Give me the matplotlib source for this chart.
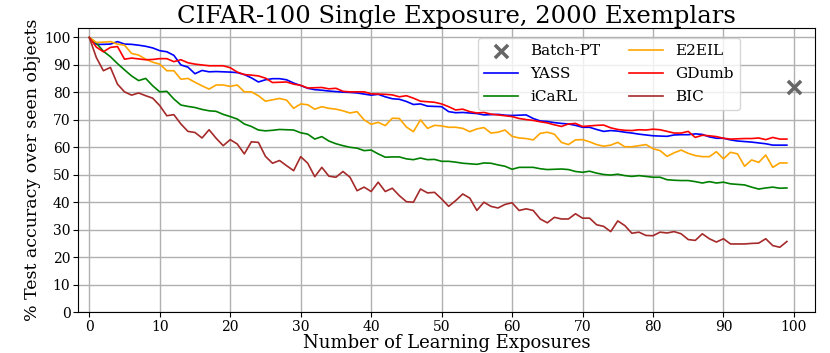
import numpy as np
import matplotlib
matplotlib.use("Agg")
import matplotlib.pyplot as plt

plt.rcParams['font.family'] = 'DejaVu Serif'

# --- Data --- #
exposures = np.arange(100)

yass = [100, 97.5, 97.5, 97.6, 98.5, 97.6, 97.5, 97.2, 96.8, 96.2,
        95.2, 94.8, 93.5, 90.0, 89.2, 86.8, 88.0, 87.5, 87.6, 87.5,
        87.4, 87.2, 86.5, 85.3, 83.8, 84.6, 85.0, 85.0, 84.6, 83.4,
        82.5, 81.5, 81.0, 80.8, 80.5, 80.3, 80.1, 80.0, 79.8, 79.4,
        79.0, 79.3, 78.4, 77.7, 77.5, 76.7, 75.6, 75.8, 75.0, 74.9,
        74.8, 73.0, 72.6, 72.7, 72.5, 72.3, 71.8, 71.9, 72.0, 71.7,
        71.6, 71.7, 71.8, 70.5, 69.6, 69.4, 69.0, 68.7, 68.5, 68.0,
        67.3, 67.3, 66.5, 65.8, 66.1, 65.9, 65.5, 65.2, 64.8, 64.5,
        64.2, 64.1, 64.0, 64.5, 64.6, 64.6, 64.9, 64.7, 63.8, 63.3,
        63.3, 62.7, 62.3, 62.1, 61.9, 61.6, 61.3, 60.8, 60.8, 60.8]

gdumb = [100, 96.5, 94.8, 96.4, 96.7, 92.1, 92.5, 92.2, 91.9, 92.0,
         92.3, 92.3, 91.2, 91.9, 90.8, 90.3, 90.0, 89.7, 89.7, 89.7,
         89.0, 87.4, 86.5, 86.3, 86.0, 85.2, 83.6, 83.7, 83.8, 83.0,
         82.6, 81.6, 81.7, 81.8, 81.3, 81.5, 80.4, 80.2, 80.2, 80.2,
         79.5, 79.4, 79.3, 79.1, 78.4, 78.8, 77.9, 76.8, 76.6, 76.4,
         75.8, 74.8, 73.6, 73.9, 73.0, 72.5, 72.7, 72.1, 71.8, 71.5,
         71.2, 70.5, 70.1, 69.8, 69.3, 68.9, 68.2, 67.6, 68.5, 68.7,
         67.6, 67.8, 68.0, 68.1, 67.1, 66.5, 66.2, 66.1, 66.4, 66.3,
         66.6, 66.4, 65.8, 65.2, 65.2, 65.8, 63.6, 64.4, 64.2, 63.9,
         63.3, 63.0, 63.1, 63.2, 63.2, 63.4, 62.8, 63.6, 63.0, 63.0]

e2eil = [100, 98.2, 98.3, 98.5, 97.6, 97.2, 94.2, 93.6, 92.1, 91.0,
         90.3, 87.9, 87.9, 84.8, 85.1, 83.7, 82.4, 81.2, 82.7, 82.7,
         82.2, 82.7, 80.2, 80.2, 78.8, 76.8, 77.3, 77.8, 77.2, 74.2,
         75.8, 75.5, 73.9, 74.8, 74.2, 73.9, 73.3, 72.5, 73.0, 70.0,
         68.4, 69.1, 67.9, 70.6, 70.5, 67.4, 65.7, 70.0, 66.9, 68.0,
         67.8, 67.3, 67.3, 66.9, 65.7, 66.7, 67.2, 65.2, 65.5, 66.3,
         64.0, 63.4, 63.2, 62.7, 65.1, 65.5, 64.8, 61.8, 61.0, 62.7,
         62.8, 62.0, 61.0, 60.4, 60.8, 61.8, 60.2, 60.2, 60.6, 61.0,
         59.5, 58.8, 56.7, 58.0, 59.0, 57.8, 57.0, 56.6, 56.6, 58.4,
         55.8, 58.2, 57.6, 53.1, 55.4, 54.5, 57.2, 52.7, 54.3, 54.3]

icarl = [100, 98.0, 95.0, 93.0, 90.5, 88.2, 86.0, 84.3, 85.1, 82.4,
         80.2, 80.4, 77.6, 75.4, 74.9, 74.5, 73.8, 73.3, 73.1, 72.0,
         71.2, 70.3, 68.5, 67.6, 66.3, 66.0, 66.2, 66.5, 66.4, 66.3,
         65.3, 64.8, 63.0, 63.9, 62.3, 61.3, 60.6, 60.0, 59.7, 58.8,
         59.0, 57.6, 56.4, 56.5, 56.5, 55.8, 55.5, 56.1, 55.5, 55.6,
         54.9, 54.9, 54.6, 54.2, 54.0, 53.8, 54.3, 54.2, 53.6, 53.1,
         52.0, 52.7, 52.7, 52.7, 52.2, 51.9, 52.0, 52.1, 51.9, 51.2,
         50.9, 51.3, 50.6, 50.1, 49.9, 50.2, 49.7, 49.4, 49.7, 49.4,
         49.1, 49.1, 48.2, 48.0, 47.9, 47.9, 47.5, 47.0, 47.5, 47.0,
         47.3, 46.7, 46.5, 46.3, 45.5, 44.8, 45.2, 45.5, 45.1, 45.2]

bic = [100, 92.7, 87.9, 89.1, 83.0, 80.2, 79.0, 79.8, 78.8, 77.9,
       75.2, 71.5, 71.9, 68.5, 65.8, 65.4, 63.4, 66.4, 63.3, 60.6,
       62.8, 61.2, 57.6, 62.0, 61.8, 56.7, 54.2, 55.2, 53.3, 51.5,
       56.6, 54.2, 49.3, 52.7, 49.5, 49.1, 51.2, 49.1, 44.2, 45.5,
       43.9, 47.3, 43.9, 45.1, 42.4, 40.2, 40.0, 44.8, 43.4, 43.6,
       41.2, 38.5, 40.6, 43.0, 41.5, 37.0, 40.0, 38.5, 37.9, 39.2,
       39.8, 37.0, 37.6, 37.0, 33.9, 32.5, 34.5, 33.9, 33.9, 35.8,
       34.2, 34.2, 31.8, 31.2, 29.3, 33.2, 31.5, 28.7, 29.1, 27.9,
       27.8, 29.1, 28.8, 29.3, 28.5, 26.4, 26.1, 28.5, 26.7, 25.5,
       26.7, 24.8, 24.8, 24.8, 25.0, 25.1, 26.7, 24.2, 23.6, 25.7]

batch_pt_x = 100
batch_pt_y = 82

# --- Plot --- #
fig = plt.figure(figsize=(8.3, 3.53), dpi=100)
ax = fig.add_axes([0.094, 0.116, 0.888, 0.805])

bp = ax.scatter([batch_pt_x], [batch_pt_y], marker='x', s=90, linewidths=2.5,
                color='#666666', label='Batch-PT', zorder=3)
l_yass, = ax.plot(exposures, yass, color='blue', lw=1.2, label='YASS')
l_icarl, = ax.plot(exposures, icarl, color='green', lw=1.2, label='iCaRL')
l_e2eil, = ax.plot(exposures, e2eil, color='orange', lw=1.2, label='E2EIL')
l_gdumb, = ax.plot(exposures, gdumb, color='red', lw=1.2, label='GDumb')
l_bic, = ax.plot(exposures, bic, color='brown', lw=1.2, label='BIC')

ax.set_xlim(-1.6, 103)
ax.set_ylim(0, 103.5)
ax.set_xticks(np.arange(0, 101, 10))
ax.set_yticks(np.arange(0, 101, 10))
ax.tick_params(labelsize=10, pad=2)
ax.grid(True, color='#b0b0b0', lw=1)
ax.set_axisbelow(True)

title = ax.set_title('CIFAR-100 Single Exposure, 2000 Exemplars', fontsize=17.5, pad=2)
title.set_x(0.513)
ax.set_xlabel('Number of Learning Exposures', fontsize=13, labelpad=0)
ax.set_ylabel('% Test accuracy over seen objects', fontsize=12.5, labelpad=2)

ax.legend(handles=[bp, l_yass, l_icarl, l_e2eil, l_gdumb, l_bic], ncol=2,
          loc='upper left', bbox_to_anchor=(0.543, 0.965), borderaxespad=0,
          fontsize=11, columnspacing=1.9, handlelength=2.2, labelspacing=0.6)

fig.savefig('out.png', dpi=100)
